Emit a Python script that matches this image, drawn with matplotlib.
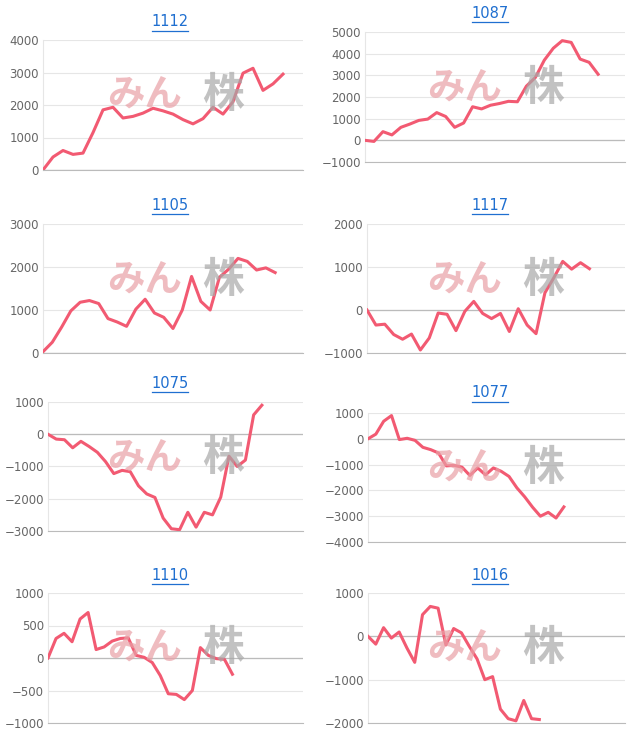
import matplotlib
matplotlib.use("Agg")
import matplotlib.pyplot as plt

# chart titles and series
titles = ["1112", "1087", "1105", "1117", "1075", "1077", "1110", "1016"]

s1112 = [0, 400, 600, 480, 520, 1150, 1850, 1930, 1600, 1650, 1750, 1900, 1820,
         1720, 1550, 1420, 1580, 1930, 1720, 2100, 2980, 3130, 2450, 2650, 2950]
s1087 = [0, -50, 400, 250, 600, 750, 920, 980, 1280, 1100, 600, 800, 1550, 1450,
         1620, 1700, 1800, 1780, 2500, 2900, 3700, 4250, 4600, 4520, 3750, 3600, 3050]
s1105 = [30, 250, 600, 980, 1180, 1220, 1150, 800, 720, 620, 1020, 1250, 930, 830,
         570, 1000, 1780, 1200, 1000, 1760, 1950, 2200, 2130, 1930, 1980, 1870]
s1117 = [0, -350, -330, -570, -680, -560, -930, -650, -70, -100, -480, -30, 200,
         -80, -200, -80, -500, 30, -350, -550, 400, 750, 1130, 950, 1100, 960]
s1075 = [0, -150, -170, -420, -220, -380, -560, -850, -1220, -1120, -1160, -1600,
         -1850, -1960, -2600, -2930, -2960, -2420, -2880, -2420, -2500, -1950, -680,
         -1000, -800, 600, 900]
s1077 = [0, 180, 680, 900, -30, 20, -60, -330, -420, -550, -1050, -1030, -1100,
         -1420, -1130, -1400, -1130, -1260, -1460, -1900, -2250, -2650, -3000, -2850,
         -3070, -2640]
s1110 = [0, 300, 380, 250, 600, 700, 130, 170, 260, 300, 310, 40, 10, -70, -270,
         -550, -560, -640, -500, 160, 40, -10, -20, -250]
s1016 = [0, -180, 200, -40, 100, -270, -600, 500, 690, 650, -200, 180, 80, -230,
         -520, -1000, -930, -1680, -1900, -1950, -1480, -1900, -1920]
series = [s1112, s1087, s1105, s1117, s1075, s1077, s1110, s1016]

# axis settings per chart
x_ends = [26, 29, 28, 29, 31, 32.8, 31.8, 33]
y_lims = [(0, 4000), (-1000, 5000), (0, 3000), (-1000, 2000),
          (-3000, 1000), (-4000, 1000), (-1000, 1000), (-2000, 1000)]
y_steps = [1000, 1000, 1000, 1000, 1000, 1000, 500, 1000]

# pixel boxes: left, right, top, bottom ; title y ; watermark centre y
boxes = [(43, 303, 40, 170, 22, 95), (365, 625, 32, 162, 13, 88),
         (43, 303, 224, 353, 205, 280), (367, 625, 224, 353, 205, 280),
         (48, 303, 402, 531, 383, 458), (368, 625, 413, 542, 393, 468),
         (48, 303, 593, 723, 575, 648), (368, 625, 593, 723, 575, 648)]

W, H = 640, 745
fig = plt.figure(figsize=(W / 100, H / 100), dpi=100)
line_color = "#f25a72"
jp = ["Noto Sans CJK JP", "DejaVu Sans"]

for i in range(8):
    l, r, t, b, ty, wy = boxes[i]
    ax = fig.add_axes([l / W, 1 - b / H, (r - l) / W, (b - t) / H])
    lo, hi = y_lims[i]
    ax.set_ylim(lo, hi)
    ax.set_xlim(0, x_ends[i])
    ax.set_yticks(list(range(lo, hi + 1, y_steps[i])))
    ax.set_xticks([])
    ax.tick_params(axis="y", length=0, labelsize=8.5, labelcolor="#666666", pad=3)
    ax.grid(axis="y", color="#e6e6e6", linewidth=0.8)
    ax.axhline(0, color="#bbbbbb", linewidth=0.9, zorder=1)
    for s in ["top", "right"]:
        ax.spines[s].set_visible(False)
    ax.spines["left"].set_color("#e6e6e6")
    ax.spines["bottom"].set_color("#bbbbbb")
    ax.set_axisbelow(True)

    # watermark, placed in page pixels
    left_off = 0 if l < 320 else 320
    fig.text((145 + left_off) / W, 1 - wy / H, "みん", fontsize=27, fontweight="bold",
             family=jp, color="#e9a0a6", alpha=0.7, ha="center", va="center", zorder=0)
    fig.text((223 + left_off) / W, 1 - wy / H, "株", fontsize=30, fontweight="bold",
             family=jp, color="#a8a8a8", alpha=0.7, ha="center", va="center", zorder=0)

    ys = series[i]
    ax.plot(range(len(ys)), ys, color=line_color, linewidth=2.2, zorder=3)

    cx = 170 if l < 320 else 490
    fig.text(cx / W, 1 - ty / H, titles[i], ha="center", va="center", fontsize=10.5,
             color="#1f6fd0", family="DejaVu Sans")
    fig.add_artist(plt.Line2D([(cx - 18) / W, (cx + 18) / W],
                              [1 - (ty + 9) / H, 1 - (ty + 9) / H],
                              color="#1f6fd0", linewidth=0.9))

fig.savefig("out.png", dpi=100)
